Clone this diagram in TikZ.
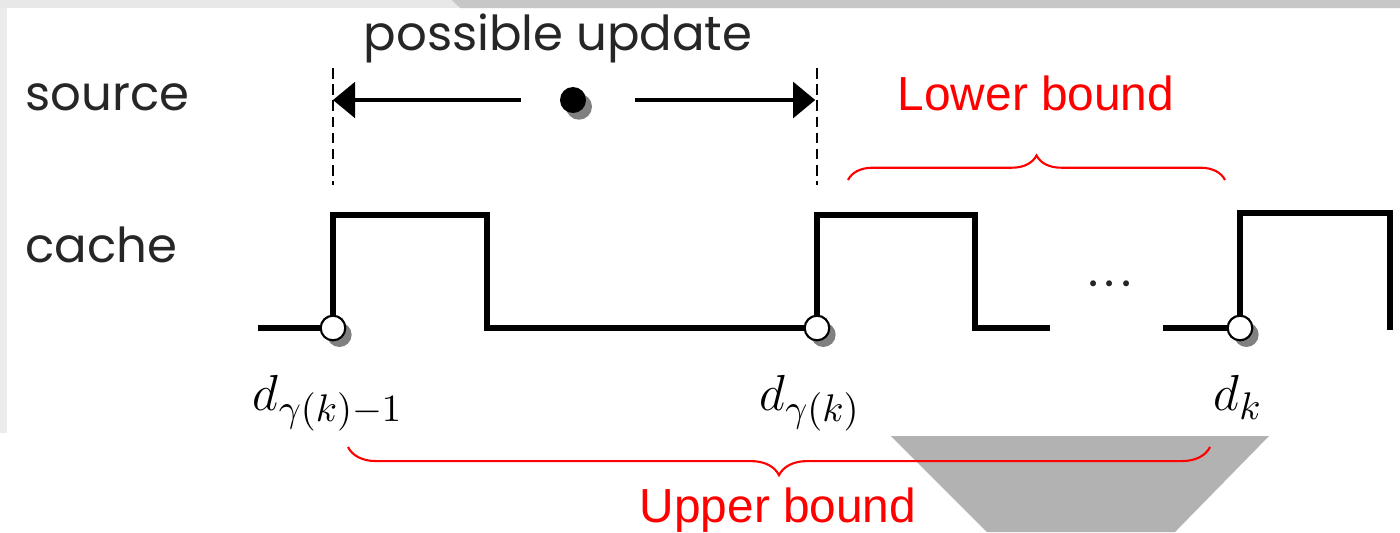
\documentclass[tikz,border=0pt]{standalone}
\usepackage[no-math]{fontspec}
\usepackage{amsmath}
\newfontfamily\gothic{Poppins}
\newfontfamily\arial{Liberation Sans}
\usetikzlibrary{arrows.meta,decorations.pathreplacing,shadows,positioning}

\begin{document}
\begin{tikzpicture}[x=0.01cm, y=-0.01cm, >={Triangle[length=6.3pt, width=10.2pt]},
    wave/.style={line width=1.7pt, line join=miter},
    guide/.style={line width=0.45pt, dash pattern=on 3pt off 1.6pt},
    arr/.style={->, line width=0.9pt},
    word/.style={font=\gothic\fontsize{13.7}{16}\selectfont, text=black!85, inner sep=0pt},
    dlab/.style={font=\fontsize{15}{18}\selectfont, inner sep=0pt, anchor=base},
    redword/.style={font=\arial\fontsize{13.6}{16}\selectfont, text=red, inner sep=0pt},
    redbrace/.style={red, line width=0.6pt, decorate},
    tick/.style={circle, draw, fill=white, line width=0.6pt, inner sep=0pt,
        minimum size=7pt, drop shadow={shadow xshift=1.8pt, shadow yshift=-1.9pt, fill=black!50, opacity=1}},
    blob/.style={circle, fill=black, inner sep=0pt,
        minimum size=7.4pt, drop shadow={shadow xshift=1.7pt, shadow yshift=-1.9pt, fill=black!50, opacity=1}}]
    \useasboundingbox (0,0) rectangle (1400,532);

    % slide background
    \fill[white] (0,0) rectangle (1400,532);
    \fill[black!9] (0,0) rectangle (458,8);
    \fill[black!22] (452,0) -- (1400,0) -- (1400,8) -- (460,8) -- cycle;
    \fill[black!8] (0,8) rectangle (7,433);
    \fill[black!30] (891,436) -- (1269,436) -- (1175,532) -- (987,532) -- cycle;

    % row names
    \node[word, anchor=west] (src) at (25,97) {source};
    \node[word, anchor=west] (cch) at (25,245) {cache};
    \node[word] (upd) at (558,38) {possible update};

    % dashed guides
    \coordinate (lt) at (333,68);
    \coordinate (lb) at (333,185);
    \coordinate (rt) at (817,68);
    \coordinate (rb) at (817,185);
    \draw[guide] (lt) -- (lb);
    \draw[guide] (rt) -- (rb);

    % update point and its range
    \node[blob] (pu) at (573,100) {};
    \draw[arr, shorten <=11pt] (pu) -- (pu -| lt);
    \draw[arr, shorten <=13.6pt, shorten >=0.5pt] (pu) -- (pu -| rt);

    % cache signal
    \coordinate (d1) at (333,328);
    \coordinate (d2) at (817,328);
    \coordinate (d3) at (1240,328);
    \draw[wave] (258,328) -- (d1) -- (333,215) -- (487,215) -- (487,328)
        -- (d2) -- (817,215) -- (975,215) -- (975,328) -- (1050,328);
    \draw[wave] (1163,328) -- (d3) -- (1240,213) -- (1390,213) -- (1390,330);
    \node[word, anchor=base] (dots) at (1110,286) {.\hspace{1.8pt}.\hspace{1.8pt}.};

    \node[tick] (c1) at (d1) {};
    \node[tick] (c2) at (d2) {};
    \node[tick] (c3) at (d3) {};

    \node[dlab] (l1) at (328,410) {$d_{\gamma(k)-1}$};
    \node[dlab] (l2) at (810,410) {$d_{\gamma(k)}$};
    \node[dlab] (l3) at (1238,410) {$d_k$};

    % bounds
    \coordinate (lo1) at (848,180);
    \coordinate (lo2) at (1225,180);
    \draw[redbrace, decoration={brace, amplitude=7pt}] (lo1) -- (lo2);
    \node[redword] (lower) at (1036,93) {Lower bound};

    \coordinate (up1) at (348,447);
    \coordinate (up2) at (1210,447);
    \draw[redbrace, decoration={brace, amplitude=8pt}] (up2) -- (up1);
    \node[redword] (upper) at (778,510) {Upper bound};
\end{tikzpicture}
\end{document}
